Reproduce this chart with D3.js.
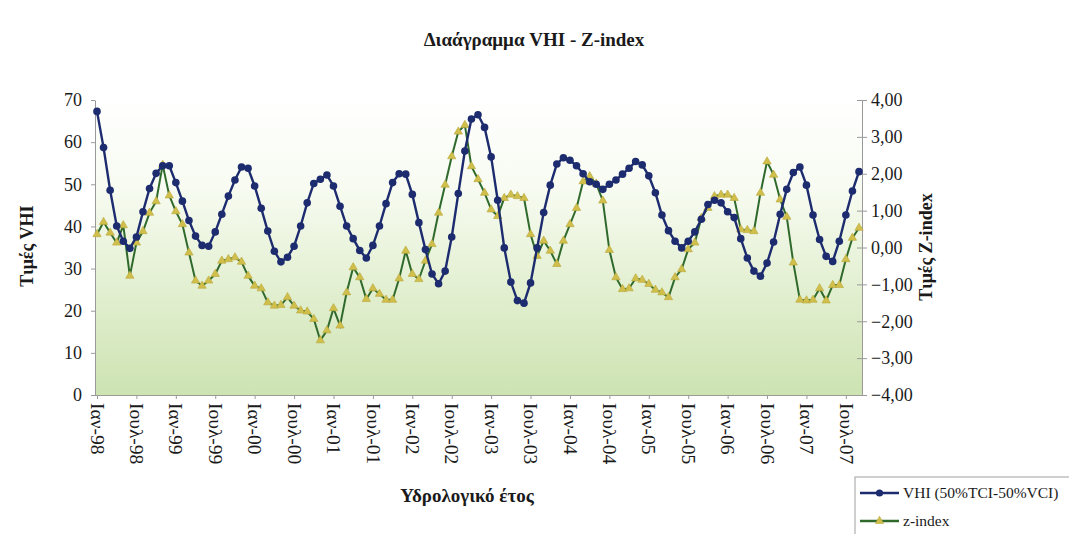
<!DOCTYPE html>
<html>
<head>
<meta charset="utf-8">
<script src="https://cdn.jsdelivr.net/npm/d3@7"></script>
<style>
  body { margin: 0; background: #fff; }
  .chart { width: 1069px; height: 534px; }
  text { font-family: "Liberation Serif", "Times New Roman", serif; fill: #1a1a1a; }
  .axis path, .axis line { stroke: #9a9a9a; }
</style>
</head>
<body>
<div class="chart"></div>
<script>
/* DATA */
/* monthly values, Jan-98 .. Sep-07 */
var monthNames = ["Ιαν", "Φεβ", "Μαρ", "Απρ", "Μαϊ", "Ιουν", "Ιουλ", "Αυγ", "Σεπ", "Οκτ", "Νοε", "Δεκ"];
var startYear = 1998;

var vhi = [
    67.3, 58.7, 48.6, 40.1, 36.5, 34.8, 37.5, 43.5, 49.0, 52.6, 54.4, 54.4,
    50.4, 46.0, 41.4, 37.7, 35.5, 35.3, 38.7, 42.9, 47.2, 51.0, 54.1, 53.8,
    49.6, 44.3, 38.9, 34.1, 31.6, 32.7, 35.3, 40.1, 45.6, 50.2, 51.2, 52.2,
    49.6, 44.8, 40.1, 37.1, 34.3, 32.5, 35.5, 40.1, 45.4, 50.4, 52.5, 52.4,
    47.6, 40.9, 34.5, 28.7, 26.4, 29.4, 37.5, 47.8, 57.9, 65.5, 66.5, 63.5,
    56.5, 46.2, 34.9, 26.8, 22.4, 21.8, 26.6, 34.9, 43.3, 49.8, 54.8, 56.3,
    55.7, 54.4, 52.5, 50.6, 50.0, 48.8, 50.0, 51.0, 52.4, 53.8, 55.4, 54.6,
    52.0, 48.0, 42.7, 39.0, 36.5, 34.9, 36.5, 38.7, 41.7, 45.2, 46.2, 45.6,
    43.5, 42.1, 37.1, 32.5, 29.4, 28.2, 31.3, 36.3, 42.9, 48.8, 52.8, 54.1,
    49.8, 42.7, 36.9, 32.9, 31.7, 36.5, 42.7, 48.4, 53.0
];

var zIndex = [
    0.36, 0.69, 0.40, 0.13, 0.60, -0.77, 0.13, 0.44, 0.94, 1.25, 2.24, 1.41,
    0.98, 0.63, -0.14, -0.90, -1.04, -0.90, -0.72, -0.36, -0.32, -0.27, -0.39, -0.77,
    -1.04, -1.11, -1.49, -1.58, -1.56, -1.35, -1.58, -1.71, -1.74, -1.94, -2.52, -2.25,
    -1.65, -2.12, -1.22, -0.54, -0.81, -1.40, -1.11, -1.26, -1.42, -1.42, -0.84, -0.09,
    -0.72, -0.86, -0.36, 0.09, 0.94, 1.70, 2.47, 3.14, 3.32, 2.20, 1.85, 1.48,
    1.03, 0.85, 1.34, 1.43, 1.39, 1.34, 0.36, -0.23, 0.18, -0.09, -0.45, 0.18,
    0.63, 1.07, 1.79, 1.93, 1.73, 1.27, -0.07, -0.81, -1.13, -1.11, -0.84, -0.88,
    -0.99, -1.15, -1.22, -1.35, -0.81, -0.59, -0.05, 0.13, 0.80, 1.07, 1.39, 1.43,
    1.43, 1.34, 0.49, 0.47, 0.44, 1.48, 2.33, 1.97, 1.30, 0.83, -0.41, -1.42,
    -1.44, -1.42, -1.11, -1.44, -1.02, -1.02, -0.32, 0.26, 0.53
];

var vhiTicks = [0, 10, 20, 30, 40, 50, 60, 70];
var zTicks = [-4, -3, -2, -1, 0, 1, 2, 3, 4];

var categories = vhi.map(function(d, i) {
    var m = i % 12;
    var y = (startYear + Math.floor(i / 12)) % 100;
    return monthNames[m] + "-" + (y < 10 ? "0" + y : y);
});

/* SET UP */
var plot = { left: 95, right: 862, top: 100, bottom: 395 };

var xScale = d3.scalePoint().domain(categories).range([97, 859]);
var yLeft = d3.scaleLinear().domain([0, 70]).range([plot.bottom, plot.top]);
var yRight = d3.scaleLinear().domain([-4, 4]).range([plot.bottom, plot.top]);

var svg = d3.select(".chart").append("svg")
    .attr("width", 1069)
    .attr("height", 534);

var defs = svg.append("defs");
var grad = defs.append("linearGradient")
    .attr("id", "bg")
    .attr("x1", 0).attr("y1", 0).attr("x2", 0).attr("y2", 1);
grad.append("stop").attr("offset", "0%").attr("stop-color", "#ffffff");
grad.append("stop").attr("offset", "30%").attr("stop-color", "#f7fbf1");
grad.append("stop").attr("offset", "65%").attr("stop-color", "#e2efd0");
grad.append("stop").attr("offset", "100%").attr("stop-color", "#cde3b2");

// plot area
svg.append("rect")
    .attr("x", plot.left)
    .attr("y", plot.top)
    .attr("width", plot.right - plot.left)
    .attr("height", plot.bottom - plot.top)
    .attr("fill", "url(#bg)");

// title
svg.append("text")
    .attr("x", 534)
    .attr("y", 46)
    .attr("text-anchor", "middle")
    .attr("font-weight", "bold")
    .attr("font-size", 19)
    .text("Διαάγραμμα VHI - Z-index");

/* AXES */
var xAxis = svg.append("g")
    .attr("class", "axis")
    .attr("transform", "translate(0," + plot.bottom + ")")
    .call(d3.axisBottom(xScale)
        .tickValues(categories.filter(function(d, i) { return i % 6 === 0; }))
        .tickSize(4)
        .tickSizeOuter(0));
xAxis.select(".domain").attr("d", "M" + plot.left + ",0.5H" + plot.right);
xAxis.selectAll("text")
    .attr("font-size", 19.5)
    .attr("font-family", "Liberation Serif, serif")
    .attr("fill", "#1a1a1a")
    .attr("text-anchor", "start")
    .attr("transform", "rotate(90)")
    .attr("x", 8)
    .attr("y", 0)
    .attr("dy", "0.35em");

var leftAxis = svg.append("g")
    .attr("class", "axis")
    .attr("transform", "translate(" + plot.left + ",0)")
    .call(d3.axisLeft(yLeft).tickValues(vhiTicks).tickSize(4).tickSizeOuter(0));
leftAxis.selectAll("text")
    .attr("font-size", 18)
    .attr("font-family", "Liberation Serif, serif")
    .attr("fill", "#1a1a1a")
    .attr("x", -13);

var rightAxis = svg.append("g")
    .attr("class", "axis")
    .attr("transform", "translate(" + plot.right + ",0)")
    .call(d3.axisRight(yRight).tickValues(zTicks).tickSize(5).tickSizeOuter(0)
        .tickFormat(function(d) { return d3.format(".2f")(d).replace(".", ","); }));
rightAxis.selectAll(".tick line").attr("x1", -5);
rightAxis.selectAll("text")
    .attr("font-size", 18)
    .attr("font-family", "Liberation Serif, serif")
    .attr("fill", "#1a1a1a")
    .attr("x", 9);

// axis titles
svg.append("text")
    .attr("transform", "translate(33,246) rotate(-90)")
    .attr("text-anchor", "middle")
    .attr("font-weight", "bold")
    .attr("font-size", 18)
    .text("Τιμές VHI");

svg.append("text")
    .attr("transform", "translate(932,247) rotate(-90)")
    .attr("text-anchor", "middle")
    .attr("font-weight", "bold")
    .attr("font-size", 18)
    .text("Τιμές Z-index");

svg.append("text")
    .attr("x", 467)
    .attr("y", 502)
    .attr("text-anchor", "middle")
    .attr("font-weight", "bold")
    .attr("font-size", 19)
    .text("Υδρολογικό έτος");

/* SERIES */
var vhiLine = d3.line()
    .x(function(d, i) { return xScale(categories[i]); })
    .y(function(d) { return yLeft(d); });

var zLine = d3.line()
    .x(function(d, i) { return xScale(categories[i]); })
    .y(function(d) { return yRight(d); });

var triangle = d3.symbol().type(d3.symbolTriangle).size(30);

// z-index
svg.append("path")
    .datum(zIndex)
    .attr("fill", "none")
    .attr("stroke", "#2f6a2c")
    .attr("stroke-width", 2)
    .attr("d", zLine);

svg.selectAll(".tri")
    .data(zIndex)
    .enter().append("path")
    .attr("class", "tri")
    .attr("d", triangle)
    .attr("fill", "#d1bf4c")
    .attr("stroke", "#b8a63a")
    .attr("stroke-width", 0.6)
    .attr("transform", function(d, i) {
        return "translate(" + xScale(categories[i]) + "," + yRight(d) + ")";
    });

// VHI
svg.append("path")
    .datum(vhi)
    .attr("fill", "none")
    .attr("stroke", "#1d2b6f")
    .attr("stroke-width", 2.4)
    .attr("d", vhiLine);

svg.selectAll(".dot")
    .data(vhi)
    .enter().append("circle")
    .attr("class", "dot")
    .attr("r", 3.8)
    .attr("fill", "#1d2b6f")
    .attr("cx", function(d, i) { return xScale(categories[i]); })
    .attr("cy", function(d) { return yLeft(d); });

/* LEGEND */
var legend = svg.append("g").attr("transform", "translate(855,477)");
legend.append("rect")
    .attr("width", 240)
    .attr("height", 80)
    .attr("fill", "#fff")
    .attr("stroke", "#a0a0a0");

var legendItems = [
    { name: "VHI (50%TCI-50%VCI)", color: "#1d2b6f", marker: "circle" },
    { name: "z-index", color: "#2f6a2c", marker: "triangle" }
];

legendItems.forEach(function(item, i) {
    var cy = 16 + i * 28;
    legend.append("line")
        .attr("x1", 5).attr("x2", 44)
        .attr("y1", cy).attr("y2", cy)
        .attr("stroke", item.color)
        .attr("stroke-width", 2.4);
    if (item.marker === "circle") {
        legend.append("circle")
            .attr("cx", 24.5).attr("cy", cy).attr("r", 3.6)
            .attr("fill", item.color);
    } else {
        legend.append("path")
            .attr("d", triangle)
            .attr("transform", "translate(24.5," + cy + ")")
            .attr("fill", "#d1bf4c")
            .attr("stroke", "#b8a63a")
            .attr("stroke-width", 0.6);
    }
    legend.append("text")
        .attr("x", 48)
        .attr("y", cy)
        .attr("dy", "0.35em")
        .attr("font-size", 15.5)
        .text(item.name);
});
</script>
</body>
</html>
